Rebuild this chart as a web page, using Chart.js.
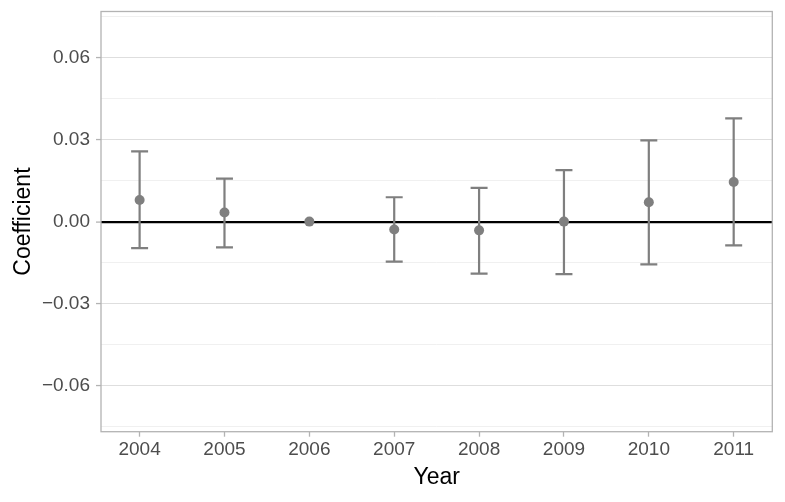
<!DOCTYPE html>
<html>
<head>
<meta charset="utf-8">
<script src="https://cdn.jsdelivr.net/npm/chart.js@4/dist/chart.umd.min.js"></script>
<style>
  html, body { margin: 0; padding: 0; background: #fff; }
  #wrap { width: 785px; height: 502px; }
</style>
</head>
<body>
<div id="wrap"><canvas id="chart" width="785" height="502"></canvas></div>
<script>
// estimates and 95% intervals
const years = [2004, 2005, 2006, 2007, 2008, 2009, 2010, 2011];
const coef  = [0.0079, 0.0033, 0.0, -0.0029, -0.0032, 0.0, 0.0071, 0.0145];
const lower = [-0.0097, -0.0094, null, -0.0146, -0.0190, -0.0192, -0.0156, -0.0087];
const upper = [0.0257, 0.0157, null, 0.0089, 0.0123, 0.0188, 0.0297, 0.0377];

const yMajor = [-0.06, -0.03, 0, 0.03, 0.06];
const yMinor = [-0.075, -0.045, -0.015, 0.015, 0.045, 0.075];

const GREY = '#7f7f7f';
const capHalf = 0.1; // in year units (ggplot width = 0.2)

const isMajor = v => yMajor.some(m => Math.abs(m - v) < 1e-9);

// whiskers + caps, drawn with the chart's own scales
const errorBars = {
  id: 'errorBars',
  beforeDatasetsDraw(chart) {
    const { ctx, scales: { x, y } } = chart;
    ctx.save();
    ctx.strokeStyle = GREY;
    ctx.lineWidth = 2.2;
    ctx.lineCap = 'butt';
    years.forEach((yr, i) => {
      if (lower[i] == null || upper[i] == null) return;
      const px = x.getPixelForValue(yr);
      const x0 = x.getPixelForValue(yr - capHalf);
      const x1 = x.getPixelForValue(yr + capHalf);
      const lo = y.getPixelForValue(lower[i]);
      const hi = y.getPixelForValue(upper[i]);
      ctx.beginPath();
      ctx.moveTo(px, lo); ctx.lineTo(px, hi);
      ctx.moveTo(x0, lo); ctx.lineTo(x1, lo);
      ctx.moveTo(x0, hi); ctx.lineTo(x1, hi);
      ctx.stroke();
    });
    ctx.restore();
  },
  afterDraw(chart) {
    // panel border (theme_light)
    const { ctx, chartArea: a } = chart;
    ctx.save();
    ctx.strokeStyle = '#b3b3b3';
    ctx.lineWidth = 1.3;
    ctx.strokeRect(a.left, a.top, a.right - a.left, a.bottom - a.top);
    ctx.restore();
  }
};

new Chart(document.getElementById('chart'), {
  type: 'scatter',
  data: {
    datasets: [{
      label: 'Coefficient',
      data: years.map((yr, i) => ({ x: yr, y: coef[i] })),
      backgroundColor: GREY,
      borderColor: GREY,
      pointRadius: 5,
      pointHoverRadius: 5,
      borderWidth: 0
    }]
  },
  options: {
    responsive: false,
    animation: false,
    layout: { padding: { left: 0, right: 12.7, top: 11.5, bottom: 0 } },
    plugins: {
      legend: { display: false },
      tooltip: { enabled: false }
    },
    scales: {
      x: {
        type: 'linear',
        min: 2003.545,
        max: 2011.455,
        afterBuildTicks: (scale) => { scale.ticks = years.map(v => ({ value: v })); },
        afterFit: (scale) => {
          scale.height = 70.3;
          scale.paddingLeft = 0;
          scale.paddingRight = 0;
        },
        ticks: {
          callback: v => String(v),
          color: '#4d4d4d',
          font: { family: 'Liberation Sans, Arial, sans-serif', size: 19 },
          padding: 2,
          maxRotation: 0,
          autoSkip: false
        },
        grid: {
          drawOnChartArea: false,
          drawTicks: true,
          tickLength: 5,
          tickColor: '#b3b3b3',
          tickWidth: 1.3
        },
        border: { display: false },
        title: {
          display: true,
          text: 'Year',
          color: '#000',
          font: { family: 'Liberation Sans, Arial, sans-serif', size: 23 },
          padding: { top: 0, bottom: 11 }
        }
      },
      y: {
        type: 'linear',
        min: -0.0768,
        max: 0.0768,
        afterBuildTicks: (scale) => {
          scale.ticks = yMajor.concat(yMinor).sort((a, b) => a - b).map(v => ({ value: v }));
        },
        afterFit: (scale) => {
          scale.width = 101;
          scale.paddingTop = 0;
          scale.paddingBottom = 0;
        },
        ticks: {
          callback: v => isMajor(v) ? (v < 0 ? '\u2212' : '') + Math.abs(v).toFixed(2) : '',
          color: '#4d4d4d',
          font: { family: 'Liberation Sans, Arial, sans-serif', size: 19 },
          padding: 6,
          autoSkip: false
        },
        grid: {
          drawTicks: true,
          tickLength: 5,
          color: (c) => {
            const v = c.tick.value;
            if (Math.abs(v) < 1e-9) return '#000000';
            return isMajor(v) ? '#dedede' : '#ececec';
          },
          lineWidth: (c) => {
            const v = c.tick.value;
            if (Math.abs(v) < 1e-9) return 2.2;
            return isMajor(v) ? 1.1 : 0.8;
          },
          tickColor: (c) => isMajor(c.tick.value) ? '#b3b3b3' : 'rgba(0,0,0,0)',
          tickWidth: 1.3
        },
        border: { display: false },
        title: {
          display: true,
          text: 'Coefficient',
          color: '#000',
          font: { family: 'Liberation Sans, Arial, sans-serif', size: 23 },
          padding: { top: 10, bottom: 0 }
        }
      }
    }
  },
  plugins: [errorBars]
});
</script>
</body>
</html>
